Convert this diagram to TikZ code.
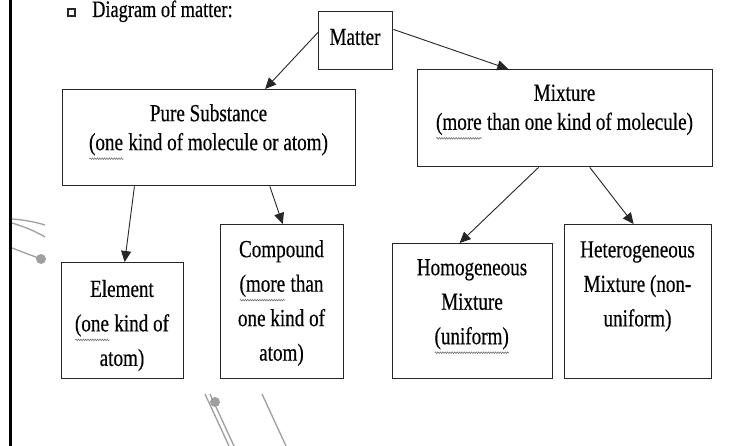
\documentclass[tikz,border=0pt]{standalone}
\usepackage{fontspec}
\setmainfont{Liberation Serif}
\newfontfamily\nar[FakeStretch=0.78,FakeBold=0.4]{Liberation Serif}
\usetikzlibrary{arrows.meta,calc,decorations.pathmorphing}
\newcommand\sqg[1]{\setbox0=\hbox{#1}\rlap{\copy0}\tikz[baseline=0pt]\draw[gray!90!black,line width=0.6pt,decorate,decoration={snake,amplitude=0.8pt,segment length=2.4pt}] (0pt,-8.5pt) -- (\wd0,-8.5pt);}
\tikzset{
  box/.style={draw=black!85,line width=1.4pt,inner sep=0pt,anchor=north west},
  toptext/.style={inner sep=0pt,align=center,font=\nar\fontsize{24.5}{29}\selectfont},
  bottext/.style={inner sep=0pt,align=center,font=\nar\fontsize{24.5}{34.5}\selectfont},
  conn/.style={draw=black!85,line width=0.9pt,-{Triangle[length=11pt,width=10pt]}},
  deco/.style={draw=gray!75,line width=1.3pt},
}
\begin{document}
\begin{tikzpicture}[x=1pt,y=-1pt]
\useasboundingbox[fill=white] (0,0) rectangle (750,446);
% left bar
\draw[line width=3pt] (10.5,0) -- (10.5,446);
% decorative gray strokes
\draw[deco] (12,219) .. controls (25,220) and (35,222) .. (45,225);
\draw[deco] (12,223) .. controls (25,227) and (35,231) .. (45,237);
\draw[deco] (12,248) -- (41,259);
\fill[gray!75] (41,259) circle (5);
\draw[deco] (205,394) -- (229,446);
\draw[deco] (210,394) -- (234,446);
\fill[gray!75] (215,402) circle (5);
\draw[deco] (262,394) -- (286,446);
% title
\node[draw=black!85,line width=1.1pt,minimum width=7pt,minimum height=7pt,inner sep=0pt] (bullet) at (71.5,12.5) {};
\node[anchor=base west,inner sep=0pt,font=\nar\fontsize{23.5}{27}\selectfont] (title) at (92,17) {Diagram of matter:};
% boxes
\node[box,minimum width=74pt,minimum height=58pt] (matter) at (318,11) {};
\node[box,minimum width=293pt,minimum height=96pt] (pure) at (62,89) {};
\node[box,minimum width=295pt,minimum height=97pt] (mixture) at (417,69) {};
\node[box,minimum width=122pt,minimum height=116pt] (element) at (61,262) {};
\node[box,minimum width=123pt,minimum height=154pt] (compound) at (220,224) {};
\node[box,minimum width=160pt,minimum height=135pt] (homo) at (392,243) {};
\node[box,minimum width=147pt,minimum height=154pt] (hetero) at (564,224) {};
% texts
\node[toptext] (tmatter) at (355,37) {Matter};
\node[toptext] (tpure) at (208.5,132) {Pure Substance\\\sqg{(one} kind of molecule or atom)};
\node[toptext] (tmixture) at (564.5,112) {Mixture\\\sqg{(more} than one kind of molecule)};
\node[bottext] (telement) at (122,325.5) {Element\\\sqg{(one} kind of\\atom)};
\node[bottext] (tcompound) at (281.5,303) {Compound\\\sqg{(more} than\\one kind of\\atom)};
\node[bottext] (thomo) at (472,306.5) {Homogeneous\\Mixture\\\sqg{(uniform)}};
\node[bottext] (thetero) at (637.5,286.5) {Heterogeneous\\Mixture (non-\\uniform)};
% connectors
\draw[conn] ($(matter.north west)!0.36!(matter.south west)$) -- ($(pure.north west)!0.69!(pure.north east)$);
\draw[conn] ($(matter.north east)!0.31!(matter.south east)$) -- ($(mixture.north west)!0.308!(mixture.north east)$);
\draw[conn] ($(pure.south west)!0.246!(pure.south east)$) -- ($(element.north west)!0.516!(element.north east)$);
\draw[conn] ($(pure.south west)!0.706!(pure.south east)$) -- ($(compound.north west)!0.504!(compound.north east)$);
\draw[conn] ($(mixture.south west)!0.41!(mixture.south east)$) -- ($(homo.north west)!0.419!(homo.north east)$);
\draw[conn] ($(mixture.south west)!0.583!(mixture.south east)$) -- ($(hetero.north west)!0.469!(hetero.north east)$);
\end{tikzpicture}
\end{document}
